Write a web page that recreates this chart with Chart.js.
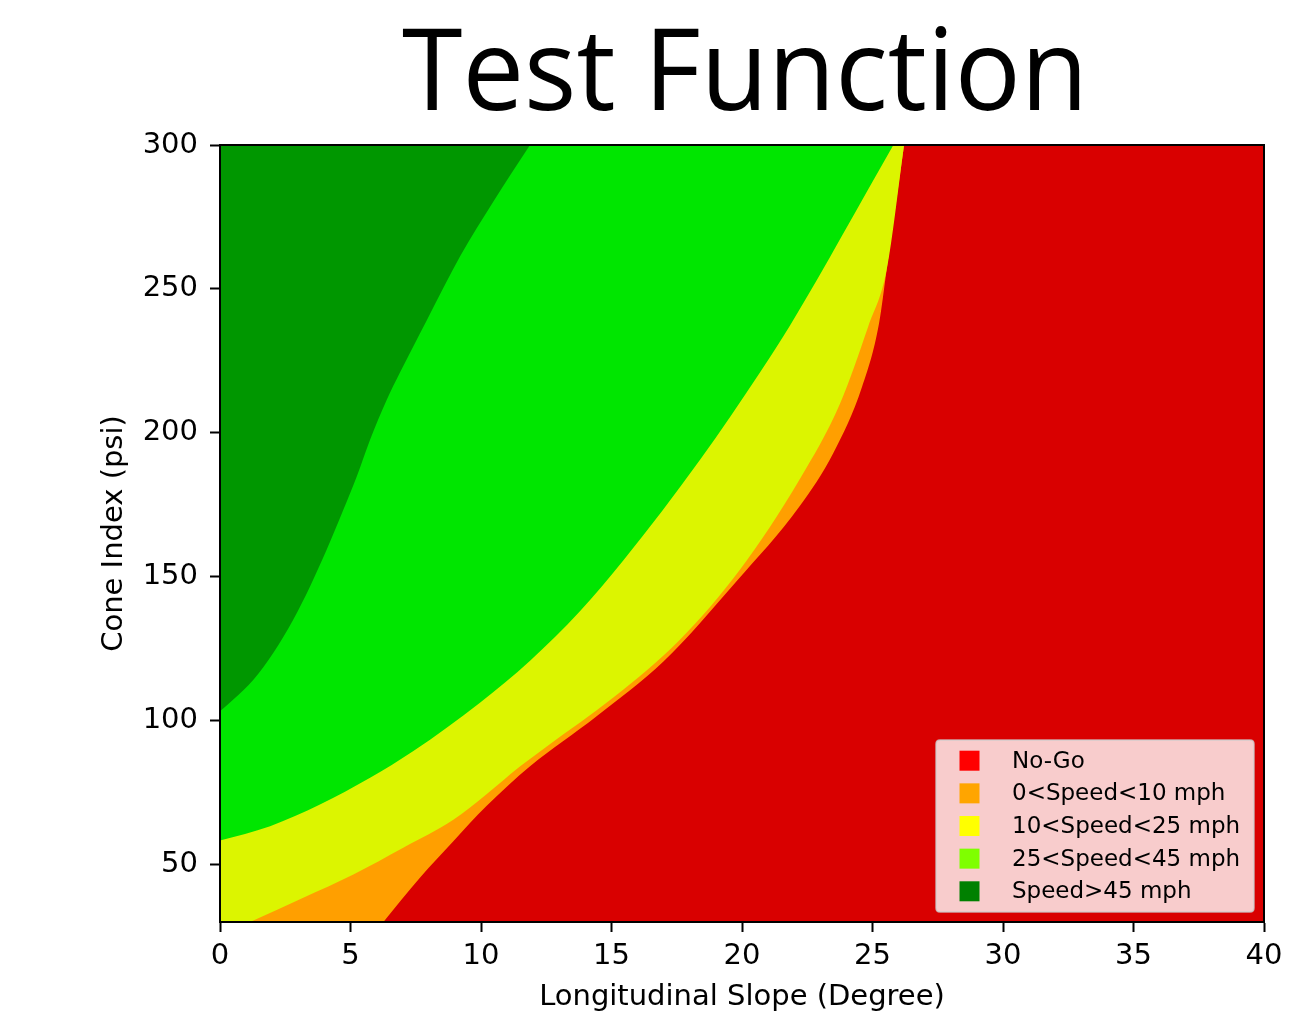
<!DOCTYPE html>
<html>
<head>
<meta charset="utf-8">
<script src="https://cdn.jsdelivr.net/npm/chart.js@4/dist/chart.umd.min.js"></script>
<style>
html,body{margin:0;padding:0;background:#ffffff;}
canvas{display:block;}
</style>
</head>
<body>
<canvas id="c" width="1307" height="1026"></canvas>
<script>
// ---- text ----
const titleText = 'Test Function';
const xAxisLabel = 'Longitudinal Slope (Degree)';
const yAxisLabel = 'Cone Index (psi)';

// ---- ticks ----
const xTicks = [0, 5, 10, 15, 20, 25, 30, 35, 40];
const yTicks = [50, 100, 150, 200, 250, 300];

// ---- legend ----
const legendLabels = ['No-Go', '0<Speed<10 mph', '10<Speed<25 mph', '25<Speed<45 mph', 'Speed>45 mph'];
const legendColors = ['#ff0000', '#ffa500', '#ffff00', '#7fff00', '#008000'];
const regionColors = ['#d90000', '#ff9f00', '#dcf500', '#00e600', '#009700'];

// ---- region boundaries (slope in degrees, cone index in psi) ----
// No-Go: whole domain beneath everything
const noGoX = [0, 40];
const noGoY = [30, 30];
// lower edge of 0<Speed<10 region (flat part along the bottom, then the curve)
const slowBaseX = [0, 6.26];
const slowBaseY = [30, 30];
const slowX = [6.0, 6.26, 7.66, 8.94, 10.2, 11.88, 14.43, 16.99, 19.8, 22.2, 23.5, 24.6, 25.25, 25.54, 26.21];
const slowY = [27.1, 30, 45.4, 58.1, 70.2, 84.1, 101.5, 120.5, 148.5, 174.4, 193, 216, 238, 256.6, 300];
// lower edge of 10<Speed<25 region
const midBaseX = [0, 1.15];
const midBaseY = [30, 30];
const midX = [0.9, 1.15, 3.19, 5.11, 7.02, 8.94, 10.2, 11.49, 12.52, 15.07, 17.62, 19.92, 22.2, 23.75, 24.84, 25.54, 26.21];
const midY = [29.0, 30, 38.4, 46.5, 55.8, 65.5, 74.3, 84, 91, 108, 128.1, 152.4, 183.7, 210, 237, 256.6, 300];
// lower edge of 25<Speed<45 region
const fastX = [0, 1.92, 3.83, 5.75, 7.41, 9.96, 11.88, 13.79, 15.45, 18.4, 20.7, 21.84, 25.8];
const fastY = [58.3, 63.3, 70.8, 80.1, 89.4, 106.2, 120.8, 138.0, 155.6, 190.7, 221.1, 237.3, 300];
// lower edge of Speed>45 region
const topX = [0, 0.51, 1.28, 2.04, 2.81, 3.45, 4.09, 4.73, 5.24, 5.75, 6.39, 6.9, 7.92, 9.2, 10.47, 11.88];
const topY = [103.2, 107.3, 114.2, 123.5, 135.1, 146.6, 159.4, 173.3, 184.8, 197.6, 211.5, 221, 239, 261.3, 280.3, 300];

const pts = (xs, ys) => xs.map((x, i) => ({x: x, y: ys[i]}));

function region(label, xs, ys, color, order) {
  return {
    label: label,
    data: pts(xs, ys),
    fill: 'end',
    backgroundColor: color,
    borderColor: color,
    borderWidth: 0,
    pointRadius: 0,
    pointHoverRadius: 0,
    cubicInterpolationMode: 'monotone',
    order: order
  };
}

const titlePlugin = {
  id: 'bigTitle',
  afterDraw(chart) {
    const ctx = chart.ctx, a = chart.chartArea;
    ctx.save();
    ctx.fillStyle = '#000';
    ctx.font = '114px "Open Sans"';
    ctx.textAlign = 'center';
    ctx.textBaseline = 'alphabetic';
    ctx.fillText(titleText, (a.left + a.right) / 2 + 3, 110, 686);
    ctx.restore();
  }
};

const framePlugin = {
  id: 'frame',
  afterDatasetsDraw(chart) {
    const ctx = chart.ctx, a = chart.chartArea;
    ctx.save();
    ctx.strokeStyle = '#000';
    ctx.lineWidth = 2;
    ctx.strokeRect(a.left, a.top, a.right - a.left, a.bottom - a.top);
    ctx.restore();
  }
};

const legendPlugin = {
  id: 'boxLegend',
  afterDraw(chart) {
    const ctx = chart.ctx, a = chart.chartArea;
    const w = 318, h = 172;
    const x0 = a.right - 10 - w, y0 = a.bottom - 10 - h;
    ctx.save();
    const r = 4;
    ctx.beginPath();
    ctx.moveTo(x0 + r, y0);
    ctx.lineTo(x0 + w - r, y0);
    ctx.quadraticCurveTo(x0 + w, y0, x0 + w, y0 + r);
    ctx.lineTo(x0 + w, y0 + h - r);
    ctx.quadraticCurveTo(x0 + w, y0 + h, x0 + w - r, y0 + h);
    ctx.lineTo(x0 + r, y0 + h);
    ctx.quadraticCurveTo(x0, y0 + h, x0, y0 + h - r);
    ctx.lineTo(x0, y0 + r);
    ctx.quadraticCurveTo(x0, y0, x0 + r, y0);
    ctx.closePath();
    ctx.fillStyle = 'rgba(255,255,255,0.8)';
    ctx.fill();
    ctx.strokeStyle = 'rgba(204,204,204,0.8)';
    ctx.lineWidth = 1.5;
    ctx.stroke();
    ctx.font = '23px "DejaVu Sans"';
    ctx.textAlign = 'left';
    ctx.textBaseline = 'middle';
    for (let i = 0; i < legendLabels.length; i++) {
      const cy = y0 + 20.7 + i * 32.65;
      ctx.fillStyle = legendColors[i];
      ctx.fillRect(x0 + 23.5, cy - 10, 20, 20);
      ctx.fillStyle = '#000';
      ctx.fillText(legendLabels[i], x0 + 76, cy + 1);
    }
    ctx.restore();
  }
};

const tickFont = {family: 'DejaVu Sans', size: 29};
const labelFont = {family: 'DejaVu Sans', size: 29};

new Chart(document.getElementById('c'), {
  type: 'line',
  data: {
    datasets: [
      region(legendLabels[0], noGoX, noGoY, regionColors[0], 6),
      region(legendLabels[1], slowBaseX, slowBaseY, regionColors[1], 5),
      region(legendLabels[1], slowX, slowY, regionColors[1], 5),
      region(legendLabels[2], midBaseX, midBaseY, regionColors[2], 3),
      region(legendLabels[2], midX, midY, regionColors[2], 3),
      region(legendLabels[3], fastX, fastY, regionColors[3], 2),
      region(legendLabels[4], topX, topY, regionColors[4], 1)
    ]
  },
  options: {
    responsive: false,
    animation: false,
    events: [],
    layout: {padding: {top: 145, right: 43, left: 0, bottom: 0}},
    plugins: {
      legend: {display: false},
      tooltip: {enabled: false},
      title: {display: false}
    },
    scales: {
      x: {
        type: 'linear',
        min: 0,
        max: 40,
        afterBuildTicks: s => { s.ticks = xTicks.map(v => ({value: v})); },
        afterFit: s => { s.height = 104; },
        ticks: {font: tickFont, color: '#000', padding: 7, maxRotation: 0, autoSkip: false,
                callback: v => String(v)},
        grid: {display: true, drawOnChartArea: false, drawTicks: true, tickLength: 10, tickWidth: 2, tickColor: '#000'},
        border: {display: true, color: '#000', width: 2},
        title: {display: true, text: xAxisLabel, font: labelFont, color: '#000', padding: {top: 0, bottom: 11}}
      },
      y: {
        type: 'linear',
        min: 30,
        max: 300,
        afterBuildTicks: s => { s.ticks = yTicks.map(v => ({value: v})); },
        afterFit: s => { s.width = 220; },
        ticks: {font: tickFont, color: '#000', padding: 12, autoSkip: false,
                callback: v => String(v)},
        grid: {display: true, drawOnChartArea: false, drawTicks: true, tickLength: 10, tickWidth: 2, tickColor: '#000'},
        border: {display: true, color: '#000', width: 2},
        title: {display: true, text: yAxisLabel, font: labelFont, color: '#000', padding: {top: 97, bottom: 0}}
      }
    }
  },
  plugins: [titlePlugin, framePlugin, legendPlugin]
});
</script>
</body>
</html>
